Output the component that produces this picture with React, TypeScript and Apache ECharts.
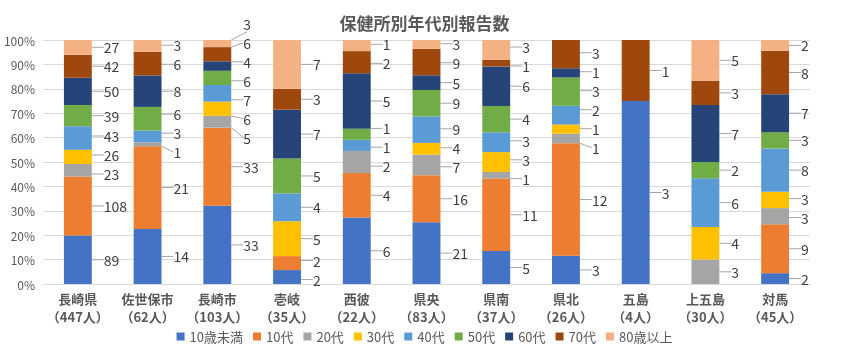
import React, { useEffect, useRef } from "react";
import * as echarts from "echarts";

const categories = ["長崎県", "佐世保市", "長崎市", "壱岐", "西彼", "県央", "県南", "県北", "五島", "上五島", "対馬"];
const totals = [447, 62, 103, 35, 22, 83, 37, 26, 4, 30, 45];
const seriesNames = ["10歳未満", "10代", "20代", "30代", "40代", "50代", "60代", "70代", "80歳以上"];
const under10 = [89, 14, 33, 2, 6, 21, 5, 3, 3, 0, 2];
const teens = [108, 21, 33, 2, 4, 16, 11, 12, 0, 0, 9];
const twenties = [23, 1, 5, 0, 2, 7, 1, 1, 0, 3, 3];
const thirties = [26, 0, 6, 5, 0, 4, 3, 1, 0, 4, 3];
const forties = [43, 3, 7, 4, 1, 9, 3, 2, 0, 6, 8];
const fifties = [39, 6, 6, 5, 1, 9, 4, 3, 0, 2, 3];
const sixties = [50, 8, 4, 7, 5, 5, 6, 1, 0, 7, 7];
const seventies = [42, 6, 6, 3, 2, 9, 1, 3, 1, 3, 8];
const over80 = [27, 3, 3, 7, 1, 3, 3, 0, 0, 5, 2];
const colors = ["#4472C4", "#ED7D31", "#A5A5A5", "#FFC000", "#5B9BD5", "#70AD47", "#264478", "#9E480E", "#F4B183"];

const seriesValues = [under10, teens, twenties, thirties, forties, fifties, sixties, seventies, over80];

const GAP = 19;

export default function App() {
  const ref = useRef<HTMLDivElement>(null);
  useEffect(() => {
    if (!ref.current) return;
    const chart = echarts.init(ref.current, null, { renderer: "svg" });
    const font = "'Noto Sans CJK JP', 'Noto Sans', sans-serif";
    const pctOf = (si: number, ci: number) => (seriesValues[si][ci] / totals[ci]) * 100;

    let pos: number[][] | null = null;
    const computePositions = () => {
      const out: number[][] = seriesValues.map(() => []);
      categories.forEach((_, ci) => {
        const items: { si: number; desired: number }[] = [];
        let cum = 0;
        seriesValues.forEach((vals, si) => {
          const pct = pctOf(si, ci);
          if (vals[ci] > 0) {
            const p = chart.convertToPixel({ seriesIndex: si }, [ci, cum + pct / 2]) as number[];
            items.push({ si, desired: p[1] });
          }
          cum += pct;
        });
        items.sort((a, b) => a.desired - b.desired);
        const groups = items.map((it) => ({ members: [it], center: it.desired }));
        let changed = true;
        while (changed) {
          changed = false;
          for (let i = 0; i < groups.length - 1; i++) {
            const g1 = groups[i];
            const g2 = groups[i + 1];
            const bottom1 = g1.center + ((g1.members.length - 1) * GAP) / 2;
            const top2 = g2.center - ((g2.members.length - 1) * GAP) / 2;
            if (top2 - bottom1 < GAP) {
              const members = g1.members.concat(g2.members);
              const center = members.reduce((s, m) => s + m.desired, 0) / members.length;
              groups.splice(i, 2, { members, center });
              changed = true;
              break;
            }
          }
        }
        groups.forEach((g) =>
          g.members.forEach((m, k) => {
            out[m.si][ci] = g.center + (k - (g.members.length - 1) / 2) * GAP;
          })
        );
      });
      return out;
    };

    const series = seriesValues.map((vals, si) => ({
      name: seriesNames[si],
      type: "bar",
      stack: "total",
      barWidth: "40%",
      itemStyle: { color: colors[si] },
      label: {
        show: true,
        position: "right",
        distance: 2,
        color: "#404040",
        fontSize: 14,
        lineHeight: 16,
        fontFamily: font,
        formatter: (p: any) => String(p.data.raw),
      },
      labelLine: { show: true, lineStyle: { color: "#A6A6A6", width: 1 } },
      labelLayout: (params: any) => {
        if (!pos) {
          try {
            pos = computePositions();
          } catch (e) {
            return {};
          }
        }
        const y = pos[si][params.dataIndex];
        if (y === undefined || isNaN(y)) return {};
        return {
          x: params.rect.x + params.rect.width + 12,
          y,
          align: "left",
          verticalAlign: "middle",
        };
      },
      data: vals.map((v, ci) =>
        v === 0
          ? { value: 0, raw: 0, label: { show: false }, labelLine: { show: false } }
          : { value: pctOf(si, ci), raw: v }
      ),
    }));

    chart.setOption({
      animation: false,
      color: colors,
      title: {
        text: "保健所別年代別報告数",
        left: "center",
        top: 9,
        textStyle: { fontSize: 17, fontWeight: "bold", color: "#595959", fontFamily: font },
      },
      grid: { left: 43, right: 39, top: 40, bottom: 72 },
      legend: {
        bottom: 8,
        left: "center",
        icon: "rect",
        itemWidth: 8,
        itemHeight: 8,
        itemGap: 10,
        textStyle: { fontSize: 13, color: "#595959", fontFamily: font },
        data: seriesNames,
      },
      xAxis: {
        type: "category",
        data: categories.map((c, i) => `${c}\n（${totals[i]}人）`),
        axisTick: { show: false },
        axisLine: { lineStyle: { color: "#D9D9D9" } },
        axisLabel: {
          color: "#595959",
          fontWeight: "bold",
          fontSize: 13,
          lineHeight: 18,
          margin: 5,
          fontFamily: font,
          interval: 0,
        },
      },
      yAxis: {
        type: "value",
        min: 0,
        max: 100,
        interval: 10,
        axisLabel: { formatter: "{value}%", color: "#595959", fontSize: 12, fontFamily: font, margin: 8 },
        splitLine: { lineStyle: { color: "#D9D9D9" } },
      },
      series,
    });
    return () => chart.dispose();
  }, []);
  return <div ref={ref} style={{ position: "fixed", left: 0, top: 0, width: 849, height: 356 }} />;
}
